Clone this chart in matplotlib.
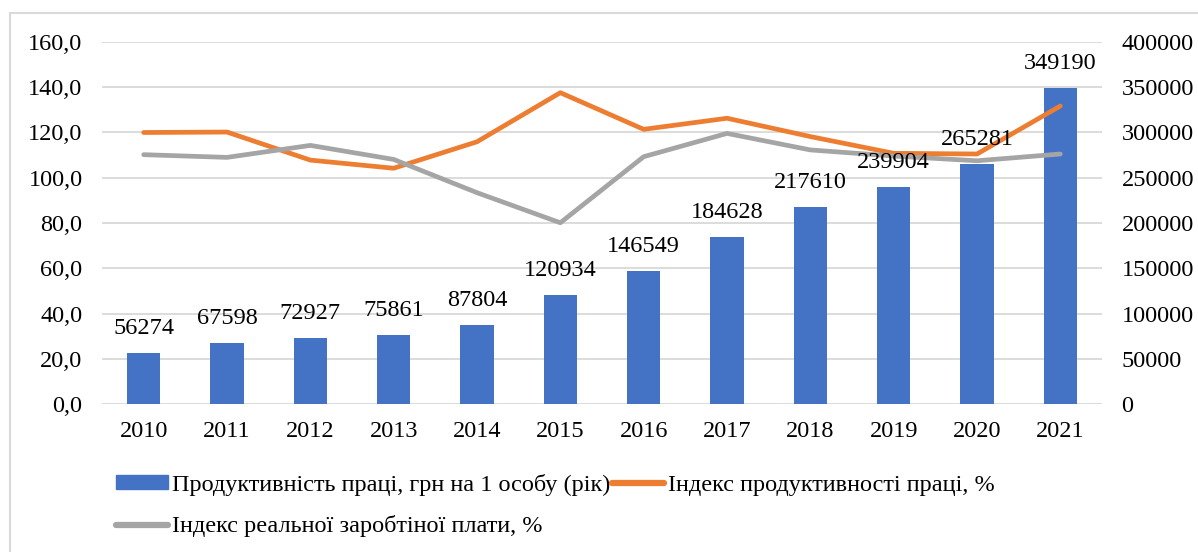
import matplotlib.pyplot as plt
from matplotlib.patches import Rectangle, Patch
from matplotlib.lines import Line2D

plt.rcParams["font.family"] = ["Liberation Serif", "DejaVu Serif"]

years = ["2010", "2011", "2012", "2013", "2014", "2015",
         "2016", "2017", "2018", "2019", "2020", "2021"]
productivity = [56274, 67598, 72927, 75861, 87804, 120934,
                146549, 184628, 217610, 239904, 265281, 349190]
prod_index = [120.0, 120.2, 107.8, 104.2, 115.9, 137.6,
              121.4, 126.3, 118.2, 110.8, 110.5, 131.7]
wage_index = [110.2, 109.0, 114.3, 108.1, 93.4, 80.1,
              109.3, 119.6, 112.3, 109.6, 107.5, 110.5]

BLUE = "#4472C4"
ORANGE = "#ED7D31"
GRAY = "#A5A5A5"
GRID = "#D9D9D9"
FS = 17.5

W, H = 1198, 552
fig = plt.figure(figsize=(W / 100, H / 100), dpi=100)
# outer chart border (only top and left edges fall inside the picture)
fig.patches.append(Rectangle((10 / W, -0.05), 1.1, 1 - 13 / H + 0.05,
                             transform=fig.transFigure, fill=False,
                             edgecolor=GRID, linewidth=1.5))

# bars on the right scale, lines on the left scale
axb = fig.add_axes([102 / W, 1 - 404 / H, 1000 / W, 362 / H])
axl = axb.twinx()
axl.set_zorder(axb.get_zorder() + 1)
axl.patch.set_visible(False)

x = list(range(len(years)))
axb.bar(x, productivity, width=0.40, color=BLUE, zorder=2)
axb.set_ylim(0, 400000)
axb.set_yticks(range(0, 400001, 50000))
axb.yaxis.tick_right()
axb.tick_params(axis="y", length=0, pad=14, labelsize=FS)
axb.set_xlim(-0.5, len(years) - 0.5)
axb.set_xticks(x)
axb.set_xticklabels(years)
axb.tick_params(axis="x", length=0, pad=12, labelsize=FS)
axb.grid(axis="y", color=GRID, linewidth=1.3, zorder=0)
axb.set_axisbelow(True)
for s in axb.spines.values():
    s.set_visible(False)

axl.plot(x, prod_index, color=ORANGE, linewidth=3.4, solid_capstyle="round")
axl.plot(x, wage_index, color=GRAY, linewidth=3.4, solid_capstyle="round")
axl.set_ylim(0, 160)
axl.set_yticks(range(0, 161, 20))
axl.set_yticklabels([f"{v},0" for v in range(0, 161, 20)])
axl.yaxis.tick_left()
axl.tick_params(axis="y", length=0, pad=14, labelsize=FS)
for s in axl.spines.values():
    s.set_visible(False)

# value labels on top of everything
for xi, v in zip(x, productivity):
    axl.annotate(str(v), (xi, v), xycoords=axb.transData,
                 xytext=(0, 10), textcoords="offset points",
                 ha="center", va="bottom", fontsize=FS, zorder=5)

handles = [Patch(color=BLUE),
           Line2D([], [], color=GRAY, linewidth=4.5, solid_capstyle="round"),
           Line2D([], [], color=ORANGE, linewidth=4.5, solid_capstyle="round")]
labels = ["Продуктивність праці, грн на 1 особу (рік)",
          "Індекс реальної заробтіної плати, %",
          "Індекс продуктивності праці, %"]
fig.legend(handles, labels, loc="upper left", bbox_to_anchor=(116 / W, 1 - 474 / H),
           ncol=2, frameon=False, fontsize=FS, handlelength=2.15,
           handleheight=0.5, handletextpad=0.17, columnspacing=0.05,
           labelspacing=0.8, borderaxespad=0, borderpad=0)

fig.savefig("out.png", dpi=100)
